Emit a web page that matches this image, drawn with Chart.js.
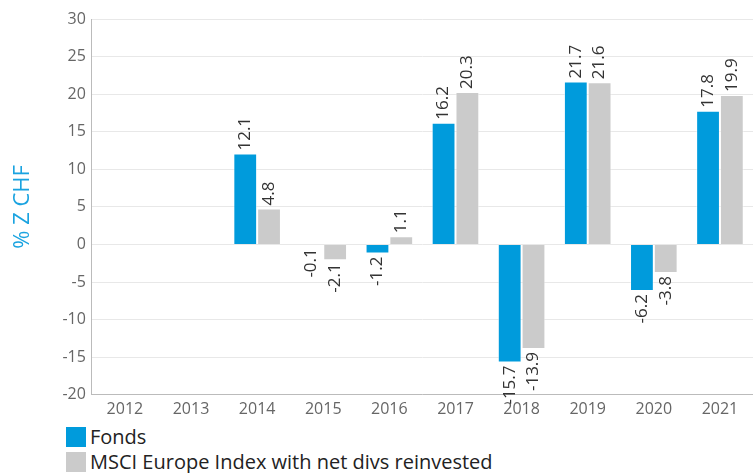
<!DOCTYPE html>
<html>
<head>
<meta charset="utf-8">
<script src="https://cdn.jsdelivr.net/npm/chart.js@4"></script>
<style>
  body { margin: 0; background: #fff; font-family: "Open Sans", sans-serif; }
  #wrap { position: relative; width: 753px; height: 424px; }
  #legend { margin: 0 0 0 66px; padding: 0; list-style: none; }
  #legend li { display: flex; align-items: center; height: 25px; font-size: 20px; color: #222; }
  #legend span { display: inline-block; width: 20px; height: 20px; margin-right: 4px; }
</style>
</head>
<body>
<div id="wrap"><canvas id="chart"></canvas></div>
<ul id="legend"></ul>
<script>
const years = ["2012", "2013", "2014", "2015", "2016", "2017", "2018", "2019", "2020", "2021"];
const fonds = [null, null, 12.1, -0.1, -1.2, 16.2, -15.7, 21.7, -6.2, 17.8];
const msci = [null, null, 4.8, -2.1, 1.1, 20.3, -13.9, 21.6, -3.8, 19.9];
const seriesNames = ["Fonds", "MSCI Europe Index with net divs reinvested"];
const seriesColors = ["#009bdc", "#cbcbcb"];

// rotated value labels above / below each bar
const barLabels = {
  id: "barLabels",
  afterDatasetsDraw(chart) {
    const ctx = chart.ctx;
    ctx.save();
    ctx.font = "17px 'Open Sans'";
    ctx.fillStyle = "#333";
    ctx.textBaseline = "middle";
    chart.data.datasets.forEach((ds, i) => {
      chart.getDatasetMeta(i).data.forEach((bar, j) => {
        const v = ds.data[j];
        if (v === null) return;
        ctx.save();
        ctx.translate(bar.x, bar.y);
        ctx.rotate(-Math.PI / 2);
        if (v >= 0) {
          ctx.textAlign = "left";
          ctx.fillText(v.toFixed(1), 3, 0);
        } else {
          ctx.textAlign = "right";
          ctx.fillText(v.toFixed(1), -3, 0);
        }
        ctx.restore();
      });
    });
    ctx.restore();
  }
};

const chart = new Chart(document.getElementById("chart"), {
  type: "bar",
  data: {
    labels: years,
    datasets: [
      { label: seriesNames[0], data: fonds, backgroundColor: seriesColors[0],
        borderColor: "rgba(255,255,255,0.5)", borderWidth: 1 },
      { label: seriesNames[1], data: msci, backgroundColor: seriesColors[1],
        borderColor: "rgba(255,255,255,0.5)", borderWidth: 1 }
    ]
  },
  options: {
    responsive: true,
    maintainAspectRatio: false,
    animation: false,
    layout: { padding: { top: 19, right: 0, left: 6, bottom: 0 } },
    datasets: { bar: { categoryPercentage: 0.72, barPercentage: 1 } },
    plugins: {
      legend: { display: false },
      tooltip: { enabled: false }
    },
    scales: {
      x: {
        grid: { display: false, drawTicks: false },
        border: { color: "#bbb" },
        ticks: { color: "#666", font: { family: "Open Sans", size: 16 }, padding: 5 }
      },
      y: {
        min: -20,
        max: 30,
        ticks: { stepSize: 5, color: "#666", font: { family: "Open Sans", size: 16 }, padding: 6 },
        grid: { color: "#e8e8e8", drawTicks: false },
        border: { color: "#bbb" },
        title: {
          display: true,
          text: "% Z CHF",
          color: "#1aa3e0",
          font: { family: "Open Sans", size: 22 },
          padding: { bottom: 20 }
        }
      }
    }
  },
  plugins: [barLabels]
});

const legend = document.getElementById("legend");
chart.data.datasets.forEach((ds) => {
  const li = document.createElement("li");
  li.innerHTML = `<span style="background:${ds.backgroundColor}"></span>${ds.label}`;
  legend.appendChild(li);
});
</script>
</body>
</html>
